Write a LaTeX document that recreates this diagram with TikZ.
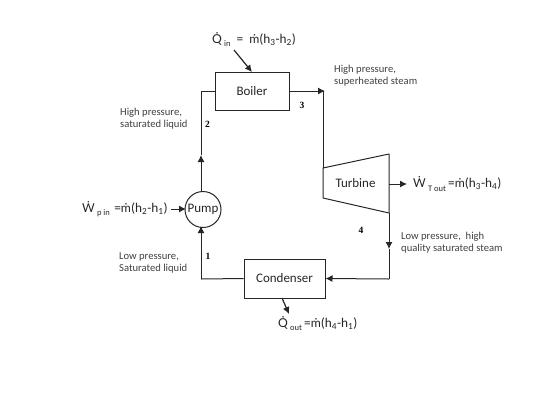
\documentclass[tikz,border=0pt]{standalone}
\usepackage{fontspec}
\setmainfont{Carlito}
\newfontfamily\numfont{Liberation Serif}
\newfontfamily\dotfont[Scale=0.92]{Lato}
\usetikzlibrary{arrows.meta,calc}
\newcommand{\qlow}[1]{\raisebox{-0.55ex}{\fontsize{8.5}{9}\selectfont #1}}
\newcommand{\dotted}[1]{{\dotfont #1^^^^0307}}
\tikzset{
  x=1pt,y=-1pt,
  lbl/.style={inner sep=0pt,font=\fontsize{13}{15}\selectfont,text=black!85},
  comp/.style={lbl,draw=black!85,line width=1pt},
  flow/.style={draw=black!85,line width=1pt},
  flowarrow/.style={flow,-{Latex[length=7pt,width=7pt]}},
  note/.style={align=left,anchor=north west,inner sep=0pt,font=\fontsize{10.6}{12.3}\selectfont,text=black!75},
  eqn/.style={anchor=west,inner sep=0pt,font=\fontsize{13.3}{15}\selectfont,text=black!85},
  num/.style={inner sep=0pt,font=\numfont\bfseries\fontsize{9.5}{11}\selectfont}
}
\begin{document}
\begin{tikzpicture}
\useasboundingbox (0,0) rectangle (540,405);
\node[comp,minimum width=74pt,minimum height=38pt] (boiler) at (252,91) {Boiler};
\node[comp,minimum width=81pt,minimum height=39pt] (condenser) at (284.5,278.5) {Condenser};
\node[comp,circle,minimum size=36pt] (pump) at (203,209.5) {Pump};
\coordinate (tl1) at (323,168); \coordinate (tl2) at (389,154);
\coordinate (tl3) at (389,213); \coordinate (tl4) at (323,198);
\draw[flow,line join=round] (tl1) -- (tl2) -- (tl3) -- (tl4) -- cycle;
\node[lbl] (turbine) at (355.5,183) {Turbine};
% cycle lines
\coordinate (c12) at (201,279);
\coordinate (c2) at (201,91);
\coordinate (c3) at (323,91);
\coordinate (c4) at (389,279);
\coordinate (mid2) at (201,155);
\coordinate (mid4) at (389,249);
\coordinate (ptop) at (201,192);
\coordinate (pbot) at (201,226);
\coordinate (tout) at (389,184);
\draw[flow] (boiler.west) -- (c2) -- (mid2);
\draw[flowarrow] (ptop) -- (mid2);
\draw[flowarrow] (boiler.east) -- (325,91);
\draw[flow] (c3) -- (tl1);
\draw[flowarrow] (tl3) -- (mid4);
\draw[flow] (mid4) -- (c4);
\draw[flowarrow] (c4) -- (condenser.east);
\draw[flow] (condenser.west) -- (c12);
\draw[flowarrow] (c12) -- (pbot);
% labels
\node[eqn] (qin) at (212,39.5) {\dotted{Q}\,\qlow{in}\ \ =\ \ \dotted{m}(h\textsubscript{3}-h\textsubscript{2})};
\node[eqn] (wt) at (413,184) {\dotted{W}\,\qlow{T out}\,=\dotted{m}(h\textsubscript{3}-h\textsubscript{4})};
\node[eqn] (wp) at (82,209) {\dotted{W}\,\qlow{p in}\,\,=\dotted{m}(h\textsubscript{2}-h\textsubscript{1})};
\node[eqn] (qout) at (278,323.5) {\dotted{Q}\,\qlow{out}\,=\dotted{m}(h\textsubscript{4}-h\textsubscript{1})};
\coordinate (qinS) at (234,50);
\coordinate (qinE) at (252,72);
\draw[flowarrow,line width=1.2pt] (qinS) -- (qinE);
\draw[flowarrow] (tout) -- (407,184);
\coordinate (wpE) at (186,209);
\draw[flowarrow] (171,209) -- (wpE);
\coordinate (qoS) at (282,298);
\coordinate (qoE) at (289,314);
\draw[flowarrow,line width=1.2pt] (qoS) -- (qoE);
\node[note] (n1) at (120,107.5) {High pressure,\\saturated liquid};
\node[note] (n2) at (334,65) {High pressure,\\superheated steam};
\node[note] (n3) at (401,231.5) {Low pressure,\ \ high\\quality saturated steam};
\node[note] (n4) at (119,252.5) {Low pressure,\\Saturated liquid};
\node[num] (l1) at (208,256) {1};
\node[num] (l2) at (207.5,124) {2};
\node[num] (l3) at (302,105) {3};
\node[num] (l4) at (361,230) {4};
\end{tikzpicture}
\end{document}
